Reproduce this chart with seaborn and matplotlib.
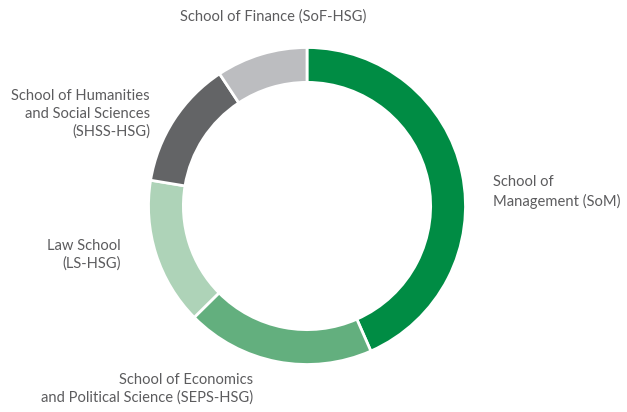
import matplotlib
matplotlib.use('Agg')
import matplotlib.pyplot as plt
import seaborn as sns

# Share of students by school (estimated from the ring)
schools = ['School of Management (SoM)', 'School of Economics and Political Science (SEPS-HSG)',
           'Law School (LS-HSG)', 'School of Humanities and Social Sciences (SHSS-HSG)',
           'School of Finance (SoF-HSG)']
shares = [43.4, 19.2, 15.0, 13.1, 9.3]
colors = ['#008C44', '#63AF7E', '#AED3B8', '#636466', '#BCBDC0']

# Label text, anchor in pixels from top-left, and alignment
label_texts = ['School of\nManagement (SoM)',
               'School of Economics\nand Political Science (SEPS-HSG)',
               'Law School\n(LS-HSG)',
               'School of Humanities\nand Social Sciences\n(SHSS-HSG)',
               'School of Finance (SoF-HSG)']
label_px = [(493, 192), (253, 389), (121, 255), (150, 114), (273, 17)]
label_ha = ['left', 'right', 'right', 'right', 'center']

sns.set_theme(style='white')
plt.rcParams['font.family'] = ['Lato', 'DejaVu Sans']

W, H = 627, 412
cx, cy, R = 307, 206, 158.5

fig = plt.figure(figsize=(W / 100, H / 100), dpi=100)
ax = fig.add_axes([0, 0, 1, 1])
ax.pie(shares, colors=colors, startangle=90, counterclock=False, radius=1,
       wedgeprops=dict(width=0.22, edgecolor='white', linewidth=2))
ax.set_xlim(-cx / R, (W - cx) / R)
ax.set_ylim(-(H - cy) / R, cy / R)
ax.set_aspect('equal')
ax.axis('off')

for txt, (px, py), ha in zip(label_texts, label_px, label_ha):
    ax.text((px - cx) / R, (cy - py) / R, txt, ha=ha, va='center',
            fontsize=10.6, fontweight='normal', color='#5C5C5E',
            linespacing=1.35, multialignment=ha)

fig.savefig('out.png', dpi=100)
